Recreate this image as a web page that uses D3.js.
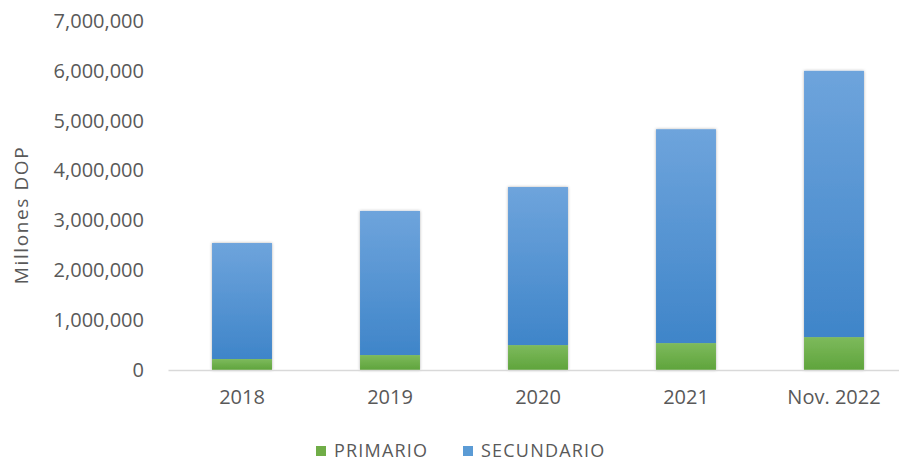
<!DOCTYPE html>
<html>
<head>
<meta charset="utf-8">
<script src="https://cdn.jsdelivr.net/npm/d3@7"></script>
<style>
  body { margin: 0; background: #fff; }
  text { font-family: "Open Sans", "Noto Sans", sans-serif; fill: #595959; }
</style>
</head>
<body>
<div id="chart"></div>
<script>
// Data (Millones DOP).
const categories = ['2018', '2019', '2020', '2021', 'Nov. 2022'];
const primario = [220000, 300000, 500000, 540000, 660000];
const secundario = [2327000, 2890000, 3170000, 4290000, 5340000];
const yTicks = [0, 1000000, 2000000, 3000000, 4000000, 5000000, 6000000, 7000000];
const seriesNames = ['PRIMARIO', 'SECUNDARIO'];

const width = 899, height = 463;

const svg = d3.select('#chart')
    .append('svg')
        .attr('width', width)
        .attr('height', height);

// Gradients and a soft shadow for the bars.
const defs = svg.append('defs');
const grad = (id, top, bottom) => {
    const g = defs.append('linearGradient')
        .attr('id', id).attr('x1', 0).attr('y1', 0).attr('x2', 0).attr('y2', 1);
    g.append('stop').attr('offset', '0%').attr('stop-color', top);
    g.append('stop').attr('offset', '100%').attr('stop-color', bottom);
};
grad('gBlue', '#6ea4dc', '#3f85c9');
grad('gGreen', '#7dba5c', '#5fa43c');
defs.append('filter').attr('id', 'shadow')
    .attr('x', '-20%').attr('y', '-5%').attr('width', '140%').attr('height', '110%')
    .append('feDropShadow')
        .attr('dx', 0).attr('dy', 0).attr('stdDeviation', 1.6)
        .attr('flood-color', '#000').attr('flood-opacity', 0.3);

// Scales.
const x = d3.scaleBand()
    .domain(categories)
    .range([168, 908])
    .paddingInner(0.595)
    .paddingOuter(0.2975);
const y = d3.scaleLinear()
    .domain([0, 7000000])
    .range([370, 21]);

// Y tick labels (no axis line, no gridlines).
const yAxis = svg.append('g')
    .attr('transform', 'translate(150,0)')
    .call(d3.axisLeft(y).tickValues(yTicks).tickSize(0).tickPadding(6).tickFormat(d3.format(',')));
yAxis.select('.domain').remove();
yAxis.selectAll('text')
    .style('font-size', '20px')
    .style('fill', '#595959');

// Stacked bars.
const rows = categories.map((c, i) => ({ cat: c, PRIMARIO: primario[i], SECUNDARIO: secundario[i] }));
const stack = d3.stack().keys(seriesNames)(rows);
const fills = { PRIMARIO: 'url(#gGreen)', SECUNDARIO: 'url(#gBlue)' };

svg.append('g')
    .attr('filter', 'url(#shadow)')
    .selectAll('g')
    .data(stack)
    .join('g')
        .attr('fill', d => fills[d.key])
    .selectAll('rect')
    .data(d => d)
    .join('rect')
        .attr('x', d => x(d.data.cat))
        .attr('y', d => y(d[1]))
        .attr('width', x.bandwidth())
        .attr('height', d => y(d[0]) - y(d[1]));

// X axis.
const xAxis = svg.append('g')
    .attr('transform', `translate(0,${y(0)})`)
    .call(d3.axisBottom(x).tickSize(0).tickPadding(20));
xAxis.select('.domain')
    .attr('stroke', '#d9d9d9')
    .attr('stroke-width', 1.5);
xAxis.selectAll('text')
    .style('font-size', '20px')
    .style('fill', '#595959');

// Y axis title.
svg.append('text')
    .attr('transform', 'translate(28,215) rotate(-90)')
    .attr('text-anchor', 'middle')
    .style('font-size', '19px')
    .style('letter-spacing', '1.6px')
    .text('Millones DOP');

// Legend.
const legend = svg.append('g');
const legendItems = [
    { name: 'PRIMARIO', color: '#70ad47', x: 316 },
    { name: 'SECUNDARIO', color: '#5b9bd5', x: 463 }
];
legendItems.forEach(it => {
    legend.append('rect')
        .attr('x', it.x).attr('y', 446)
        .attr('width', 10).attr('height', 10)
        .attr('fill', it.color);
    legend.append('text')
        .attr('x', it.x + 18).attr('y', 457)
        .style('font-size', '18px')
        .style('letter-spacing', '1.2px')
        .text(it.name);
});
</script>
</body>
</html>
